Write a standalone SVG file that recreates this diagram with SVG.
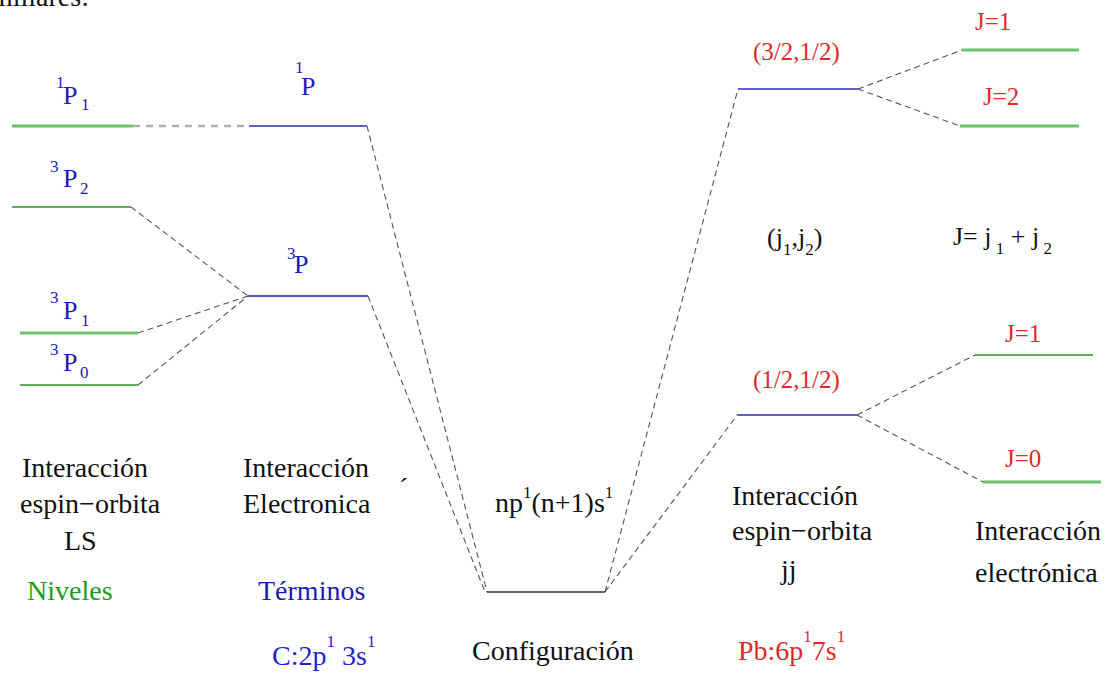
<svg xmlns="http://www.w3.org/2000/svg" width="1119" height="673" viewBox="0 0 1119 673">
<style>
text{font-family:"Liberation Serif","DejaVu Serif","Times New Roman",serif;}
.t{font-size:28px;fill:#111;}
.lb{font-size:26px;fill:#1c1cb4;}
.ss{font-size:17px;}
.red{font-size:25px;fill:#e02828;}
.blk{font-size:26px;fill:#111;}
.gThick{stroke:#6cc46c;stroke-width:3;fill:none;}
.gThin{stroke:#2a962a;stroke-width:1.5;fill:none;}
.bLight{stroke:#6060c8;stroke-width:2;fill:none;}
.bDark{stroke:#1c1cb4;stroke-width:1.6;fill:none;}
.cfg{stroke:#333;stroke-width:1.6;fill:none;}
.dash{stroke:#555;stroke-width:1.1;stroke-dasharray:6 4;fill:none;}
.dashL{stroke:#b0b0b0;stroke-width:2.5;stroke-dasharray:7 6;fill:none;}
</style>
<rect width="1119" height="673" fill="#fff"/>
<text class="t" x="-9" y="6">miliares:</text>

<g id="connectors">
<line class="dashL" x1="133" y1="126" x2="249" y2="126"/>
<line class="dash" x1="131" y1="207" x2="248" y2="296"/>
<line class="dash" x1="138" y1="333" x2="248" y2="296"/>
<line class="dash" x1="138" y1="385" x2="248" y2="296"/>
<line class="dash" x1="367" y1="126" x2="487" y2="592"/>
<line class="dash" x1="368" y1="296" x2="485" y2="592"/>
<line class="dash" x1="605" y1="592" x2="738" y2="89"/>
<line class="dash" x1="605" y1="592" x2="738" y2="414"/>
<line class="dash" x1="858" y1="89" x2="962" y2="50"/>
<line class="dash" x1="858" y1="89" x2="960" y2="126"/>
<line class="dash" x1="857" y1="415" x2="975" y2="355"/>
<line class="dash" x1="857" y1="415" x2="983" y2="482"/>
</g>

<g id="level-1P1">
<line class="gThick" x1="12" y1="126" x2="133" y2="126"/>
<text class="lb" x="56" y="104"><tspan class="ss" y="88">1</tspan><tspan x="63" y="104">P</tspan><tspan class="ss" x="81" y="110">1</tspan></text>
</g>
<g id="level-3P2">
<line class="gThin" x1="12" y1="207" x2="131" y2="207"/>
<text class="lb" x="50" y="187"><tspan class="ss" y="172">3</tspan><tspan x="63" y="187">P</tspan><tspan class="ss" x="80" y="194">2</tspan></text>
</g>
<g id="level-3P1">
<line class="gThick" x1="20" y1="333" x2="138" y2="333"/>
<text class="lb" x="50" y="319"><tspan class="ss" y="303">3</tspan><tspan x="63" y="319">P</tspan><tspan class="ss" x="81" y="326">1</tspan></text>
</g>
<g id="level-3P0">
<line class="gThin" x1="20" y1="385" x2="138" y2="385"/>
<text class="lb" x="50" y="371"><tspan class="ss" y="355">3</tspan><tspan x="63" y="371">P</tspan><tspan class="ss" x="80" y="378">0</tspan></text>
</g>
<g id="term-1P">
<line class="bLight" x1="249" y1="126" x2="367" y2="126"/>
<text class="lb" x="295" y="94"><tspan class="ss" y="73">1</tspan><tspan x="301" y="95">P</tspan></text>
</g>
<g id="term-3P">
<line class="bDark" x1="248" y1="296" x2="368" y2="296"/>
<text class="lb" x="287" y="272"><tspan class="ss" y="259">3</tspan><tspan x="294" y="273">P</tspan></text>
</g>
<g id="configuration">
<line class="cfg" x1="487" y1="592" x2="605" y2="592"/>
<text class="t" x="495" y="512">np<tspan class="ss" dy="-14">1</tspan><tspan dy="14">(n+1)s</tspan><tspan class="ss" dy="-14">1</tspan></text>
</g>
<g id="jj-32-12">
<line class="bLight" x1="738" y1="89" x2="858" y2="89"/>
<text class="red" x="753" y="60">(3/2,1/2)</text>
</g>
<g id="jj-12-12">
<line class="bLight" x1="738" y1="415" x2="857" y2="415"/>
<text class="red" x="753" y="388">(1/2,1/2)</text>
</g>
<g id="J1-top">
<line class="gThick" x1="962" y1="50" x2="1079" y2="50"/>
<text class="red" x="975" y="30">J=1</text>
</g>
<g id="J2">
<line class="gThick" x1="960" y1="126" x2="1079" y2="126"/>
<text class="red" x="983" y="105">J=2</text>
</g>
<g id="J1-low">
<line class="gThin" x1="975" y1="355" x2="1093" y2="355"/>
<text class="red" x="1005" y="342">J=1</text>
</g>
<g id="J0">
<line class="gThick" x1="983" y1="482" x2="1101" y2="482"/>
<text class="red" x="1005" y="467">J=0</text>
</g>

<g id="labels">
<text class="blk" x="767" y="246">(j<tspan class="ss" dy="9">1</tspan><tspan dy="-9">,j</tspan><tspan class="ss" dy="9">2</tspan><tspan dy="-9">)</tspan></text>
<text class="blk" x="953" y="245">J= j<tspan class="ss" dy="9"> 1</tspan><tspan dy="-9"> + j</tspan><tspan class="ss" dy="9"> 2</tspan></text>

<text class="t" x="22" y="477">Interacción</text>
<text class="t" x="20" y="513">espin−orbita</text>
<text class="t" x="64" y="550">LS</text>
<text class="t" x="27" y="600" style="fill:#229a22">Niveles</text>

<text class="t" x="243" y="477">Interacción</text>
<text class="t" x="243" y="513">Electronica</text>
<text class="t" x="399" y="497">´</text>
<text class="t" x="258" y="600" style="fill:#1c1cb4">Términos</text>
<text class="t" x="272" y="665" style="fill:#2424c8">C:2p<tspan class="ss" dy="-18">1</tspan><tspan dy="18"> 3s</tspan><tspan class="ss" dy="-18">1</tspan></text>

<text class="t" x="472" y="660">Configuración</text>
<text class="t" x="738" y="660" style="fill:#e02828">Pb:6p<tspan class="ss" dy="-18">1</tspan><tspan dy="18">7s</tspan><tspan class="ss" dy="-18">1</tspan></text>

<text class="t" x="732" y="505">Interacción</text>
<text class="t" x="732" y="540">espin−orbita</text>
<text class="t" x="781" y="579">jj</text>

<text class="t" x="975" y="540">Interacción</text>
<text class="t" x="975" y="582">electrónica</text>
</g>
</svg>
